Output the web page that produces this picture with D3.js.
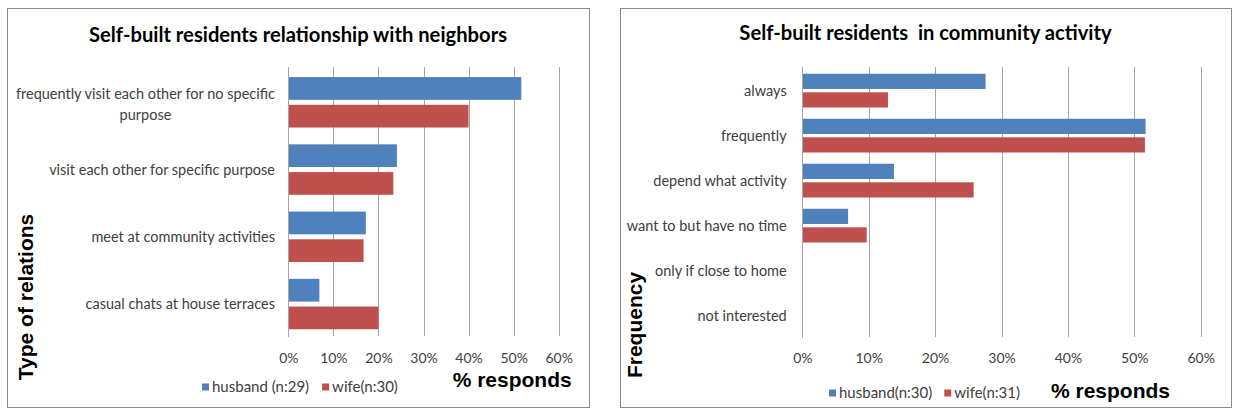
<!DOCTYPE html>
<html>
<head>
<meta charset="utf-8">
<script src="https://cdn.jsdelivr.net/npm/d3@7"></script>
<style>
  html, body { margin: 0; padding: 0; background: #ffffff; }
  svg { display: block; }
  text { white-space: pre; }
</style>
</head>
<body>
<svg id="chart" width="1233" height="417"></svg>
<script>
// ---------- data ----------
const leftTitle = "Self-built residents relationship with neighbors";
const leftCategories = [
  "frequently visit each other for no specific purpose",
  "visit each other for specific purpose",
  "meet at community activities",
  "casual chats at house terraces"
];
const leftSeriesNames = ["husband (n:29)", "wife(n:30)"];
const leftHusband = [51.7, 24.1, 17.2, 6.9];
const leftWife = [40.0, 23.3, 16.7, 20.0];
const leftYTitle = "Type of relations";

const rightTitle = "Self-built residents  in community activity";
const rightCategories = [
  "always",
  "frequently",
  "depend what activity",
  "want to but have no time",
  "only if close to home",
  "not interested"
];
const rightSeriesNames = ["husband(n:30)", "wife(n:31)"];
const rightHusband = [27.6, 51.7, 13.8, 6.9, 0, 0];
const rightWife = [12.9, 51.6, 25.8, 9.7, 0, 0];
const rightYTitle = "Frequency";

const xTickValues = [0, 10, 20, 30, 40, 50, 60];
const xTickLabels = ["0%", "10%", "20%", "30%", "40%", "50%", "60%"];
const xTitle = "% responds";
const seriesColors = ["#4F81BD", "#C0504D"];

// ---------- drawing ----------
const svg = d3.select("#chart");
const LABEL_FONT = "Lato, 'Open Sans', sans-serif";
const BOLD_FONT = "'Liberation Sans', Arial, sans-serif";

function drawPanel(cfg) {
  const g = svg.append("g");
  // panel border
  g.append("rect")
    .attr("x", cfg.box[0] + 0.5).attr("y", cfg.box[1] + 0.5)
    .attr("width", cfg.box[2] - cfg.box[0]).attr("height", cfg.box[3] - cfg.box[1])
    .attr("fill", "#fff").attr("stroke", "#8c8c8c").attr("stroke-width", 1);

  const x = d3.scaleLinear().domain([0, 60]).range([cfg.plot[0], cfg.plot[1]]);
  const y0 = d3.scaleBand().domain(cfg.categories).range([cfg.plot[2], cfg.plot[3]])
    .paddingInner(0.25).paddingOuter(0.125).align(0.6);
  const y1 = d3.scaleBand().domain(cfg.seriesNames).range([0, y0.bandwidth()]).paddingInner(0.18);

  // gridlines
  const grid = g.append("g")
    .attr("transform", `translate(0,${cfg.plot[3]})`)
    .call(d3.axisBottom(x).tickValues(xTickValues).tickSize(-(cfg.plot[3] - cfg.plot[2])).tickFormat(""));
  grid.select(".domain").remove();
  grid.selectAll(".tick line").attr("stroke", "#a6a6a6").attr("stroke-width", 1)
    .attr("shape-rendering", "crispEdges");

  // bars
  const rows = cfg.categories.map((c, i) => ({ cat: c, vals: [cfg.husband[i], cfg.wife[i]] }));
  const grp = g.selectAll(".grp").data(rows).join("g")
    .attr("transform", d => `translate(0,${y0(d.cat)})`);
  grp.selectAll("rect").data(d => d.vals.map((v, k) => ({ v, k })))
    .join("rect")
    .attr("x", x(0))
    .attr("y", d => y1(cfg.seriesNames[d.k]))
    .attr("width", d => x(d.v) - x(0))
    .attr("height", y1.bandwidth())
    .attr("fill", d => seriesColors[d.k]);

  // vertical axis line
  const ya = g.append("g").attr("transform", `translate(${x(0)},0)`)
    .call(d3.axisLeft(y0).tickSize(0).tickFormat(""));
  ya.select(".domain").attr("stroke", "#a6a6a6").attr("shape-rendering", "crispEdges");

  // category labels (wrapped, block right-aligned, lines centred)
  cfg.categories.forEach(c => {
    const words = c.split(" ");
    const lines = [];
    let cur = "";
    const probe = g.append("text").attr("font-family", LABEL_FONT).attr("font-size", cfg.catFont);
    words.forEach(w => {
      const test = cur ? cur + " " + w : w;
      probe.text(test);
      if (probe.node().getComputedTextLength() > cfg.wrapWidth && cur) {
        lines.push(cur); cur = w;
      } else cur = test;
    });
    lines.push(cur);
    let maxW = 0;
    lines.forEach(l => { probe.text(l); maxW = Math.max(maxW, probe.node().getComputedTextLength()); });
    probe.remove();
    const cy = y0(c) + y0.bandwidth() / 2 + (lines.length > 1 ? 2 : 0);
    const lh = cfg.lineHeight;
    lines.forEach((l, i) => {
      g.append("text")
        .attr("x", cfg.labelRight - maxW / 2)
        .attr("y", cy + (i - (lines.length - 1) / 2) * lh)
        .attr("dy", "0.35em")
        .attr("text-anchor", "middle")
        .attr("font-family", LABEL_FONT).attr("font-size", cfg.catFont)
        .attr("fill", "#404040")
        .text(l);
    });
  });

  // x tick labels
  const xa = g.append("g").attr("transform", `translate(0,${cfg.tickY})`)
    .call(d3.axisBottom(x).tickValues(xTickValues).tickSize(0).tickPadding(0)
      .tickFormat((d, i) => xTickLabels[i]));
  xa.select(".domain").remove();
  xa.selectAll("text").attr("font-family", LABEL_FONT).attr("font-size", cfg.tickFont)
    .attr("fill", "#404040").attr("dy", "0.35em").attr("y", 0);

  // title
  g.append("text").attr("x", (cfg.box[0] + cfg.box[2]) / 2).attr("y", cfg.titleY)
    .attr("text-anchor", "middle").attr("font-family", LABEL_FONT)
    .attr("font-weight", "bold").attr("font-size", cfg.titleFont).attr("fill", "#000")
    .text(cfg.title);

  // x axis title
  g.append("text").attr("x", cfg.xTitlePos[0]).attr("y", cfg.xTitlePos[1])
    .attr("text-anchor", "end").attr("font-family", BOLD_FONT).attr("font-weight", "bold")
    .attr("font-size", 21).attr("fill", "#000").text(xTitle);

  // y axis title
  g.append("text")
    .attr("transform", `translate(${cfg.yTitlePos[0]},${cfg.yTitlePos[1]}) rotate(-90)`)
    .attr("text-anchor", "middle").attr("font-family", BOLD_FONT).attr("font-weight", "bold")
    .attr("font-size", 21).attr("fill", "#000").text(cfg.yTitle);

  // legend
  let lx = cfg.legendX;
  cfg.seriesNames.forEach((name, k) => {
    g.append("rect").attr("x", lx).attr("y", cfg.legendY - 3.5).attr("width", 7).attr("height", 7)
      .attr("fill", seriesColors[k]);
    const t = g.append("text").attr("x", lx + 10).attr("y", cfg.legendY).attr("dy", "0.35em")
      .attr("font-family", LABEL_FONT).attr("font-size", cfg.legendFont).attr("fill", "#404040")
      .text(name);
    lx += 10 + t.node().getComputedTextLength() + cfg.legendGap;
  });
}

drawPanel({
  box: [7, 8, 589, 407],
  plot: [288.3, 558.7, 67, 336],
  categories: leftCategories, seriesNames: leftSeriesNames,
  husband: leftHusband, wife: leftWife,
  title: leftTitle, titleY: 41.5, titleFont: 20.2,
  catFont: 14.5, wrapWidth: 280, lineHeight: 21.5, labelRight: 275,
  tickY: 358, tickFont: 14,
  xTitlePos: [571.7, 386.5], yTitle: leftYTitle, yTitlePos: [33, 297],
  legendX: 202, legendY: 387, legendFont: 15, legendGap: 13
});

drawPanel({
  box: [620, 8, 1231, 407],
  plot: [802.3, 1200.7, 67, 337],
  categories: rightCategories, seriesNames: rightSeriesNames,
  husband: rightHusband, wife: rightWife,
  title: rightTitle, titleY: 40, titleFont: 20.2,
  catFont: 14.5, wrapWidth: 280, lineHeight: 21.5, labelRight: 786.7,
  tickY: 358, tickFont: 14,
  xTitlePos: [1170, 397.5], yTitle: rightYTitle, yTitlePos: [642, 325],
  legendX: 829, legendY: 393, legendFont: 15, legendGap: 12
});
</script>
</body>
</html>
